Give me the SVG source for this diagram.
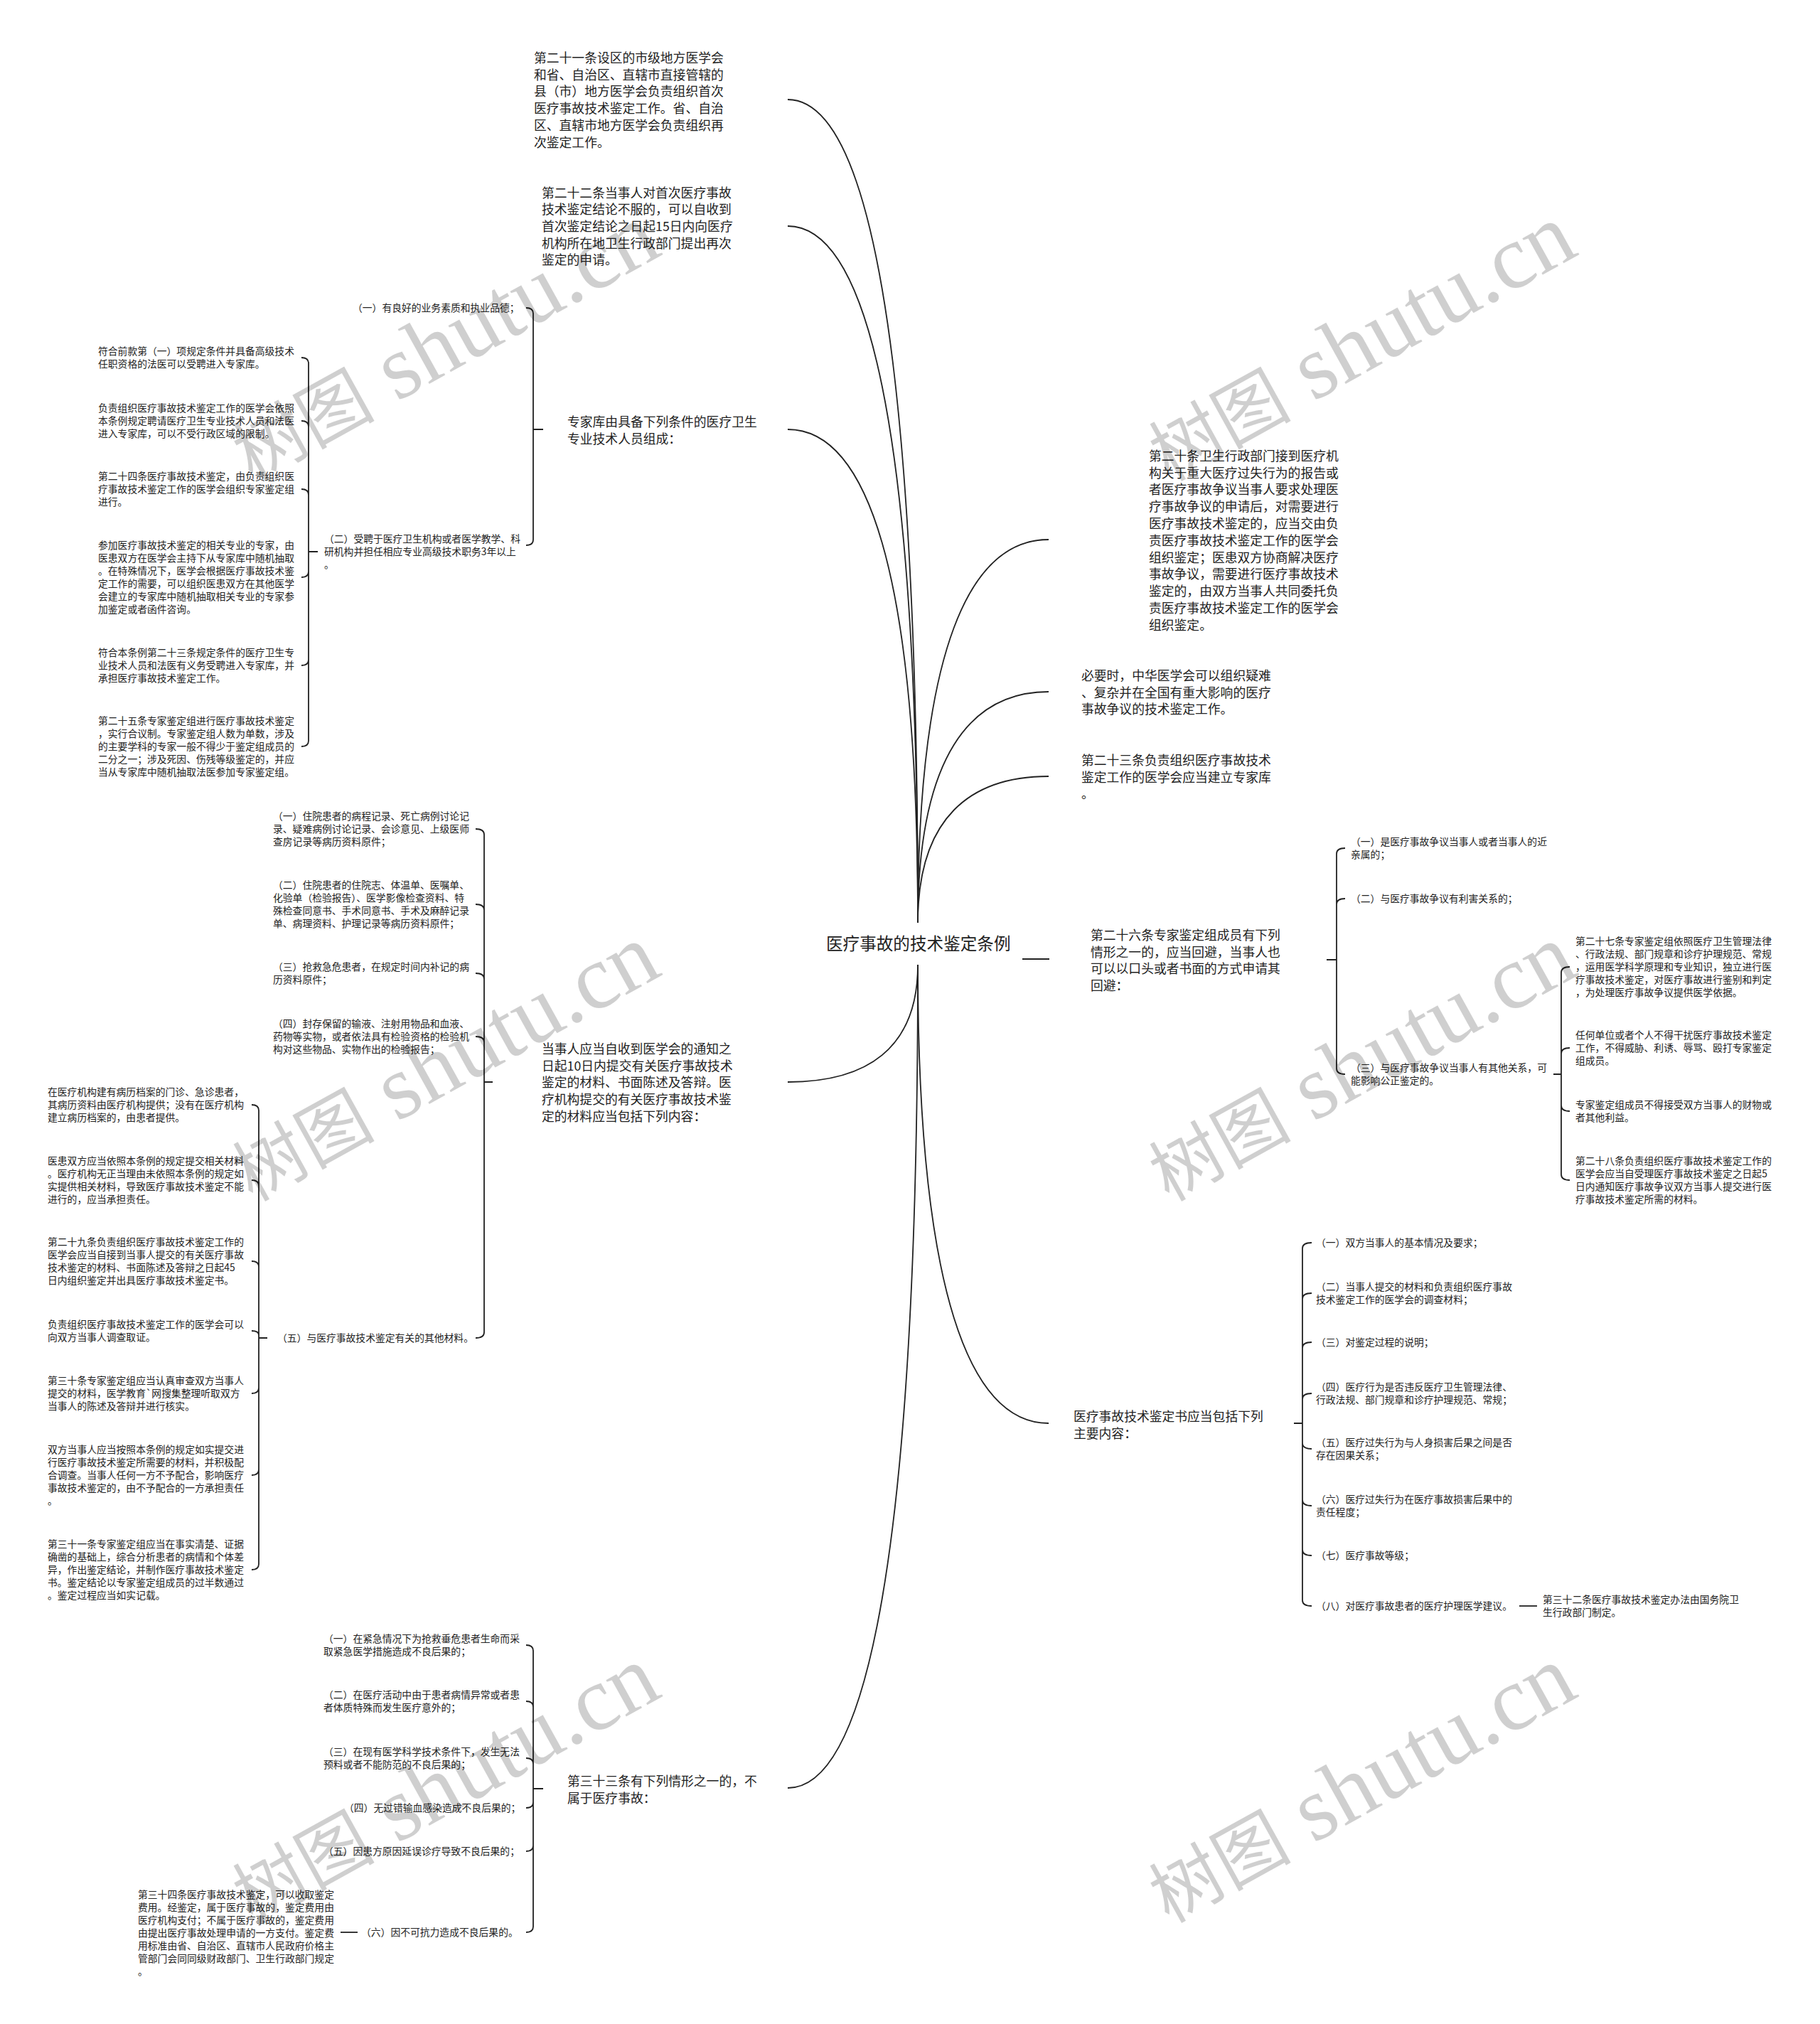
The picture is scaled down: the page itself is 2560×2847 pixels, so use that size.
<svg xmlns="http://www.w3.org/2000/svg" width="2560" height="2847" viewBox="0 0 2560 2847">
<style>
text{font-family:"Noto Sans CJK SC","Noto Sans",sans-serif;fill:#222;}
.r{font-size:23.6px;}
.m{font-size:17.8px;}
.s{font-size:13.8px;}
.c{fill:none;stroke:#222;stroke-width:1.8;}
.wm{font-family:"Liberation Serif","Noto Sans CJK SC",serif;fill:#000;fill-opacity:0.19;}
</style>
<rect width="2560" height="2847" fill="#fff"/>
<g id="connectors">
<path class="c" d="M1108 140 C1218 140 1291 464 1291 1298"/>
<path class="c" d="M1108 318 C1218 318 1291 592 1291 1298"/>
<path class="c" d="M1108 604 C1218 604 1291 798 1291 1298"/>
<path class="c" d="M1475 759 C1365 759 1291 910 1291 1298"/>
<path class="c" d="M1475 973 C1365 973 1291 1064 1291 1298"/>
<path class="c" d="M1475 1092 C1365 1092 1291 1150 1291 1298"/>
<path class="c" d="M1108 1522 C1218 1522 1291 1476 1291 1357"/>
<path class="c" d="M1108 2515 C1218 2515 1291 2191 1291 1357"/>
<path class="c" d="M1475 2002 C1365 2002 1291 1821 1291 1357"/>
<path class="c" d="M1438 1349 L1476 1349"/>
<path class="c" d="M750 604 L764 604 M750 604 L750 441 Q750 433 740 433 M750 604 L750 759 Q750 767 740 767"/>
<path class="c" d="M434 776 L447 776 M434 776 L434 511 Q434 503 424 503 M434 776 L434 600 Q434 592 424 592 M434 776 L434 696 Q434 688 424 688 M434 776 L434 804 Q434 812 424 812 M434 776 L434 928 Q434 936 424 936 M434 776 L434 1042 Q434 1050 424 1050"/>
<path class="c" d="M681 1522 L693 1522 M681 1522 L681 1174 Q681 1166 669 1166 M681 1522 L681 1280 Q681 1272 669 1272 M681 1522 L681 1377 Q681 1369 669 1369 M681 1522 L681 1466 Q681 1458 669 1458 M681 1522 L681 1874 Q681 1882 669 1882"/>
<path class="c" d="M364 1882 L376 1882 M364 1882 L364 1562 Q364 1554 354 1554 M364 1882 L364 1668 Q364 1660 354 1660 M364 1882 L364 1782 Q364 1774 354 1774 M364 1882 L364 1878 Q364 1872 354 1872 M364 1882 L364 1952 Q364 1960 354 1960 M364 1882 L364 2067 Q364 2075 354 2075 M364 1882 L364 2200 Q364 2208 354 2208"/>
<path class="c" d="M750 2516 L764 2516 M750 2516 L750 2322 Q750 2314 740 2314 M750 2516 L750 2401 Q750 2393 740 2393 M750 2516 L750 2481 Q750 2473 740 2473 M750 2516 L750 2535 Q750 2543 740 2543 M750 2516 L750 2596 Q750 2604 740 2604 M750 2516 L750 2710 Q750 2718 740 2718"/>
<path class="c" d="M479 2718 L503 2718"/>
<path class="c" d="M1866 1350 L1880 1350 M1880 1350 L1880 1201 Q1880 1193 1892 1193 M1880 1350 L1880 1272 Q1880 1264 1892 1264 M1880 1350 L1880 1503 Q1880 1511 1892 1511"/>
<path class="c" d="M2185 1511 L2196 1511 M2196 1511 L2196 1368 Q2196 1360 2208 1360 M2196 1511 L2196 1482 Q2196 1474 2208 1474 M2196 1511 L2196 1555 Q2196 1563 2208 1563 M2196 1511 L2196 1652 Q2196 1660 2208 1660"/>
<path class="c" d="M1820 2002 L1832 2002 M1832 2002 L1832 1756 Q1832 1748 1845 1748 M1832 2002 L1832 1827 Q1832 1819 1845 1819 M1832 2002 L1832 1896 Q1832 1888 1845 1888 M1832 2002 L1832 1968 Q1832 1960 1845 1960 M1832 2002 L1832 2030 Q1832 2038 1845 2038 M1832 2002 L1832 2110 Q1832 2118 1845 2118 M1832 2002 L1832 2180 Q1832 2188 1845 2188 M1832 2002 L1832 2251 Q1832 2259 1845 2259"/>
<path class="c" d="M2137 2259 L2162 2259"/>
</g>
<g id="root"><text class="r" x="1162" y="1336">医疗事故的技术鉴定条例</text></g>
<g id="n21"><text class="m">
<tspan x="751" y="87.8">第二十一条设区的市级地方医学会</tspan>
<tspan x="751" y="111.6">和省、自治区、直辖市直接管辖的</tspan>
<tspan x="751" y="135.4">县（市）地方医学会负责组织首次</tspan>
<tspan x="751" y="159.2">医疗事故技术鉴定工作。省、自治</tspan>
<tspan x="751" y="183">区、直辖市地方医学会负责组织再</tspan>
<tspan x="751" y="206.8">次鉴定工作。</tspan></text></g>
<g id="n22"><text class="m">
<tspan x="762" y="277.8">第二十二条当事人对首次医疗事故</tspan>
<tspan x="762" y="301.4">技术鉴定结论不服的，可以自收到</tspan>
<tspan x="762" y="325">首次鉴定结论之日起15日内向医疗</tspan>
<tspan x="762" y="348.6">机构所在地卫生行政部门提出再次</tspan>
<tspan x="762" y="372.2">鉴定的申请。</tspan></text></g>
<g id="nzjk"><text class="m">
<tspan x="798" y="599.8">专家库由具备下列条件的医疗卫生</tspan>
<tspan x="798" y="623.8">专业技术人员组成：</tspan></text></g>
<g id="nzjk1"><text class="s" x="496" y="438.2">（一）有良好的业务素质和执业品德；</text></g>
<g id="nzjk2"><text class="s">
<tspan x="456" y="763.2">（二）受聘于医疗卫生机构或者医学教学、科</tspan>
<tspan x="456" y="781.2">研机构并担任相应专业高级技术职务3年以上</tspan>
<tspan x="456" y="799.2">。</tspan></text></g>
<g id="nzjk2a"><text class="s">
<tspan x="138" y="499.2">符合前款第（一）项规定条件并具备高级技术</tspan>
<tspan x="138" y="517.2">任职资格的法医可以受聘进入专家库。</tspan></text></g>
<g id="nzjk2b"><text class="s">
<tspan x="138" y="579.2">负责组织医疗事故技术鉴定工作的医学会依照</tspan>
<tspan x="138" y="597.2">本条例规定聘请医疗卫生专业技术人员和法医</tspan>
<tspan x="138" y="615.2">进入专家库，可以不受行政区域的限制。</tspan></text></g>
<g id="nzjk2c"><text class="s">
<tspan x="138" y="675.2">第二十四条医疗事故技术鉴定，由负责组织医</tspan>
<tspan x="138" y="693.2">疗事故技术鉴定工作的医学会组织专家鉴定组</tspan>
<tspan x="138" y="711.2">进行。</tspan></text></g>
<g id="nzjk2d"><text class="s">
<tspan x="138" y="772.2">参加医疗事故技术鉴定的相关专业的专家，由</tspan>
<tspan x="138" y="790.2">医患双方在医学会主持下从专家库中随机抽取</tspan>
<tspan x="138" y="808.2">。在特殊情况下，医学会根据医疗事故技术鉴</tspan>
<tspan x="138" y="826.2">定工作的需要，可以组织医患双方在其他医学</tspan>
<tspan x="138" y="844.2">会建立的专家库中随机抽取相关专业的专家参</tspan>
<tspan x="138" y="862.2">加鉴定或者函件咨询。</tspan></text></g>
<g id="nzjk2e"><text class="s">
<tspan x="138" y="923.2">符合本条例第二十三条规定条件的医疗卫生专</tspan>
<tspan x="138" y="941.2">业技术人员和法医有义务受聘进入专家库，并</tspan>
<tspan x="138" y="959.2">承担医疗事故技术鉴定工作。</tspan></text></g>
<g id="nzjk2f"><text class="s">
<tspan x="138" y="1019.2">第二十五条专家鉴定组进行医疗事故技术鉴定</tspan>
<tspan x="138" y="1037.2">，实行合议制。专家鉴定组人数为单数，涉及</tspan>
<tspan x="138" y="1055.2">的主要学科的专家一般不得少于鉴定组成员的</tspan>
<tspan x="138" y="1073.2">二分之一；涉及死因、伤残等级鉴定的，并应</tspan>
<tspan x="138" y="1091.2">当从专家库中随机抽取法医参加专家鉴定组。</tspan></text></g>
<g id="ndsr"><text class="m">
<tspan x="762" y="1481.8">当事人应当自收到医学会的通知之</tspan>
<tspan x="762" y="1505.6">日起10日内提交有关医疗事故技术</tspan>
<tspan x="762" y="1529.4">鉴定的材料、书面陈述及答辩。医</tspan>
<tspan x="762" y="1553.2">疗机构提交的有关医疗事故技术鉴</tspan>
<tspan x="762" y="1577">定的材料应当包括下列内容：</tspan></text></g>
<g id="ndsr1"><text class="s">
<tspan x="384" y="1153.2">（一）住院患者的病程记录、死亡病例讨论记</tspan>
<tspan x="384" y="1171.2">录、疑难病例讨论记录、会诊意见、上级医师</tspan>
<tspan x="384" y="1189.2">查房记录等病历资料原件；</tspan></text></g>
<g id="ndsr2"><text class="s">
<tspan x="384" y="1250.2">（二）住院患者的住院志、体温单、医嘱单、</tspan>
<tspan x="384" y="1268.2">化验单（检验报告）、医学影像检查资料、特</tspan>
<tspan x="384" y="1286.2">殊检查同意书、手术同意书、手术及麻醉记录</tspan>
<tspan x="384" y="1304.2">单、病理资料、护理记录等病历资料原件；</tspan></text></g>
<g id="ndsr3"><text class="s">
<tspan x="384" y="1365.2">（三）抢救急危患者，在规定时间内补记的病</tspan>
<tspan x="384" y="1383.2">历资料原件；</tspan></text></g>
<g id="ndsr4"><text class="s">
<tspan x="384" y="1445.2">（四）封存保留的输液、注射用物品和血液、</tspan>
<tspan x="384" y="1463.2">药物等实物，或者依法具有检验资格的检验机</tspan>
<tspan x="384" y="1481.2">构对这些物品、实物作出的检验报告；</tspan></text></g>
<g id="ndsr5"><text class="s" x="390" y="1887.2">（五）与医疗事故技术鉴定有关的其他材料。</text></g>
<g id="ndsr5a"><text class="s">
<tspan x="67" y="1541.2">在医疗机构建有病历档案的门诊、急诊患者，</tspan>
<tspan x="67" y="1559.2">其病历资料由医疗机构提供；没有在医疗机构</tspan>
<tspan x="67" y="1577.2">建立病历档案的，由患者提供。</tspan></text></g>
<g id="ndsr5b"><text class="s">
<tspan x="67" y="1638.2">医患双方应当依照本条例的规定提交相关材料</tspan>
<tspan x="67" y="1656.2">。医疗机构无正当理由未依照本条例的规定如</tspan>
<tspan x="67" y="1674.2">实提供相关材料，导致医疗事故技术鉴定不能</tspan>
<tspan x="67" y="1692.2">进行的，应当承担责任。</tspan></text></g>
<g id="ndsr5c"><text class="s">
<tspan x="67" y="1752.2">第二十九条负责组织医疗事故技术鉴定工作的</tspan>
<tspan x="67" y="1770.2">医学会应当自接到当事人提交的有关医疗事故</tspan>
<tspan x="67" y="1788.2">技术鉴定的材料、书面陈述及答辩之日起45</tspan>
<tspan x="67" y="1806.2">日内组织鉴定并出具医疗事故技术鉴定书。</tspan></text></g>
<g id="ndsr5d"><text class="s">
<tspan x="67" y="1868.2">负责组织医疗事故技术鉴定工作的医学会可以</tspan>
<tspan x="67" y="1886.2">向双方当事人调查取证。</tspan></text></g>
<g id="ndsr5e"><text class="s">
<tspan x="67" y="1947.2">第三十条专家鉴定组应当认真审查双方当事人</tspan>
<tspan x="67" y="1965.2">提交的材料，医学教育`网搜集整理听取双方</tspan>
<tspan x="67" y="1983.2">当事人的陈述及答辩并进行核实。</tspan></text></g>
<g id="ndsr5f"><text class="s">
<tspan x="67" y="2044.2">双方当事人应当按照本条例的规定如实提交进</tspan>
<tspan x="67" y="2062.2">行医疗事故技术鉴定所需要的材料，并积极配</tspan>
<tspan x="67" y="2080.2">合调查。当事人任何一方不予配合，影响医疗</tspan>
<tspan x="67" y="2098.2">事故技术鉴定的，由不予配合的一方承担责任</tspan>
<tspan x="67" y="2116.2">。</tspan></text></g>
<g id="ndsr5g"><text class="s">
<tspan x="67" y="2177.2">第三十一条专家鉴定组应当在事实清楚、证据</tspan>
<tspan x="67" y="2195.2">确凿的基础上，综合分析患者的病情和个体差</tspan>
<tspan x="67" y="2213.2">异，作出鉴定结论，并制作医疗事故技术鉴定</tspan>
<tspan x="67" y="2231.2">书。鉴定结论以专家鉴定组成员的过半数通过</tspan>
<tspan x="67" y="2249.2">。鉴定过程应当如实记载。</tspan></text></g>
<g id="n33"><text class="m">
<tspan x="798" y="2511.8">第三十三条有下列情形之一的，不</tspan>
<tspan x="798" y="2535.8">属于医疗事故：</tspan></text></g>
<g id="n33a"><text class="s">
<tspan x="455" y="2310.2">（一）在紧急情况下为抢救垂危患者生命而采</tspan>
<tspan x="455" y="2328.2">取紧急医学措施造成不良后果的；</tspan></text></g>
<g id="n33b"><text class="s">
<tspan x="455" y="2389.2">（二）在医疗活动中由于患者病情异常或者患</tspan>
<tspan x="455" y="2407.2">者体质特殊而发生医疗意外的；</tspan></text></g>
<g id="n33c"><text class="s">
<tspan x="455" y="2469.2">（三）在现有医学科学技术条件下，发生无法</tspan>
<tspan x="455" y="2487.2">预料或者不能防范的不良后果的；</tspan></text></g>
<g id="n33d"><text class="s" x="484" y="2548.2">（四）无过错输血感染造成不良后果的；</text></g>
<g id="n33e"><text class="s" x="455" y="2609.2">（五）因患方原因延误诊疗导致不良后果的；</text></g>
<g id="n33f"><text class="s" x="508" y="2723.2">（六）因不可抗力造成不良后果的。</text></g>
<g id="n34"><text class="s">
<tspan x="194" y="2670.2">第三十四条医疗事故技术鉴定，可以收取鉴定</tspan>
<tspan x="194" y="2688.2">费用。经鉴定，属于医疗事故的，鉴定费用由</tspan>
<tspan x="194" y="2706.2">医疗机构支付；不属于医疗事故的，鉴定费用</tspan>
<tspan x="194" y="2724.2">由提出医疗事故处理申请的一方支付。鉴定费</tspan>
<tspan x="194" y="2742.2">用标准由省、自治区、直辖市人民政府价格主</tspan>
<tspan x="194" y="2760.2">管部门会同同级财政部门、卫生行政部门规定</tspan>
<tspan x="194" y="2778.2">。</tspan></text></g>
<g id="n20"><text class="m">
<tspan x="1616" y="647.8">第二十条卫生行政部门接到医疗机</tspan>
<tspan x="1616" y="671.6">构关于重大医疗过失行为的报告或</tspan>
<tspan x="1616" y="695.4">者医疗事故争议当事人要求处理医</tspan>
<tspan x="1616" y="719.2">疗事故争议的申请后，对需要进行</tspan>
<tspan x="1616" y="743">医疗事故技术鉴定的，应当交由负</tspan>
<tspan x="1616" y="766.8">责医疗事故技术鉴定工作的医学会</tspan>
<tspan x="1616" y="790.6">组织鉴定；医患双方协商解决医疗</tspan>
<tspan x="1616" y="814.4">事故争议，需要进行医疗事故技术</tspan>
<tspan x="1616" y="838.2">鉴定的，由双方当事人共同委托负</tspan>
<tspan x="1616" y="862">责医疗事故技术鉴定工作的医学会</tspan>
<tspan x="1616" y="885.8">组织鉴定。</tspan></text></g>
<g id="nbys"><text class="m">
<tspan x="1521" y="956.8">必要时，中华医学会可以组织疑难</tspan>
<tspan x="1521" y="980.6">、复杂并在全国有重大影响的医疗</tspan>
<tspan x="1521" y="1004.4">事故争议的技术鉴定工作。</tspan></text></g>
<g id="n23"><text class="m">
<tspan x="1521" y="1075.8">第二十三条负责组织医疗事故技术</tspan>
<tspan x="1521" y="1099.6">鉴定工作的医学会应当建立专家库</tspan>
<tspan x="1521" y="1123.4">。</tspan></text></g>
<g id="n26"><text class="m">
<tspan x="1534" y="1321.8">第二十六条专家鉴定组成员有下列</tspan>
<tspan x="1534" y="1345.6">情形之一的，应当回避，当事人也</tspan>
<tspan x="1534" y="1369.4">可以以口头或者书面的方式申请其</tspan>
<tspan x="1534" y="1393.2">回避：</tspan></text></g>
<g id="n26a"><text class="s">
<tspan x="1900" y="1189.2">（一）是医疗事故争议当事人或者当事人的近</tspan>
<tspan x="1900" y="1207.2">亲属的；</tspan></text></g>
<g id="n26b"><text class="s" x="1900" y="1269.2">（二）与医疗事故争议有利害关系的；</text></g>
<g id="n26c"><text class="s">
<tspan x="1900" y="1507.2">（三）与医疗事故争议当事人有其他关系，可</tspan>
<tspan x="1900" y="1525.2">能影响公正鉴定的。</tspan></text></g>
<g id="n27"><text class="s">
<tspan x="2216" y="1329.2">第二十七条专家鉴定组依照医疗卫生管理法律</tspan>
<tspan x="2216" y="1347.2">、行政法规、部门规章和诊疗护理规范、常规</tspan>
<tspan x="2216" y="1365.2">，运用医学科学原理和专业知识，独立进行医</tspan>
<tspan x="2216" y="1383.2">疗事故技术鉴定，对医疗事故进行鉴别和判定</tspan>
<tspan x="2216" y="1401.2">，为处理医疗事故争议提供医学依据。</tspan></text></g>
<g id="nrhdw"><text class="s">
<tspan x="2216" y="1461.2">任何单位或者个人不得干扰医疗事故技术鉴定</tspan>
<tspan x="2216" y="1479.2">工作，不得威胁、利诱、辱骂、殴打专家鉴定</tspan>
<tspan x="2216" y="1497.2">组成员。</tspan></text></g>
<g id="nzjjd"><text class="s">
<tspan x="2216" y="1559.2">专家鉴定组成员不得接受双方当事人的财物或</tspan>
<tspan x="2216" y="1577.2">者其他利益。</tspan></text></g>
<g id="n28"><text class="s">
<tspan x="2216" y="1638.2">第二十八条负责组织医疗事故技术鉴定工作的</tspan>
<tspan x="2216" y="1656.2">医学会应当自受理医疗事故技术鉴定之日起5</tspan>
<tspan x="2216" y="1674.2">日内通知医疗事故争议双方当事人提交进行医</tspan>
<tspan x="2216" y="1692.2">疗事故技术鉴定所需的材料。</tspan></text></g>
<g id="njds"><text class="m">
<tspan x="1510" y="1998.8">医疗事故技术鉴定书应当包括下列</tspan>
<tspan x="1510" y="2022.6">主要内容：</tspan></text></g>
<g id="njds1"><text class="s" x="1851" y="1753.2">（一）双方当事人的基本情况及要求；</text></g>
<g id="njds2"><text class="s">
<tspan x="1851" y="1815.2">（二）当事人提交的材料和负责组织医疗事故</tspan>
<tspan x="1851" y="1833.2">技术鉴定工作的医学会的调查材料；</tspan></text></g>
<g id="njds3"><text class="s" x="1851" y="1893.2">（三）对鉴定过程的说明；</text></g>
<g id="njds4"><text class="s">
<tspan x="1851" y="1956.2">（四）医疗行为是否违反医疗卫生管理法律、</tspan>
<tspan x="1851" y="1974.2">行政法规、部门规章和诊疗护理规范、常规；</tspan></text></g>
<g id="njds5"><text class="s">
<tspan x="1851" y="2034.2">（五）医疗过失行为与人身损害后果之间是否</tspan>
<tspan x="1851" y="2052.2">存在因果关系；</tspan></text></g>
<g id="njds6"><text class="s">
<tspan x="1851" y="2114.2">（六）医疗过失行为在医疗事故损害后果中的</tspan>
<tspan x="1851" y="2132.2">责任程度；</tspan></text></g>
<g id="njds7"><text class="s" x="1851" y="2193.2">（七）医疗事故等级；</text></g>
<g id="njds8"><text class="s" x="1851" y="2264.2">（八）对医疗事故患者的医疗护理医学建议。</text></g>
<g id="n32"><text class="s">
<tspan x="2170" y="2255.2">第三十二条医疗事故技术鉴定办法由国务院卫</tspan>
<tspan x="2170" y="2273.2">生行政部门制定。</tspan></text></g>
<g id="watermarks">
<text class="wm" transform="translate(355 678) rotate(-29)"><tspan font-size="100">树图</tspan><tspan font-size="128"> shutu.cn</tspan></text>
<text class="wm" transform="translate(1644 678) rotate(-29)"><tspan font-size="100">树图</tspan><tspan font-size="128"> shutu.cn</tspan></text>
<text class="wm" transform="translate(355 1691) rotate(-29)"><tspan font-size="100">树图</tspan><tspan font-size="128"> shutu.cn</tspan></text>
<text class="wm" transform="translate(1644 1691) rotate(-29)"><tspan font-size="100">树图</tspan><tspan font-size="128"> shutu.cn</tspan></text>
<text class="wm" transform="translate(355 2706) rotate(-29)"><tspan font-size="100">树图</tspan><tspan font-size="128"> shutu.cn</tspan></text>
<text class="wm" transform="translate(1644 2706) rotate(-29)"><tspan font-size="100">树图</tspan><tspan font-size="128"> shutu.cn</tspan></text>
</g>
</svg>
